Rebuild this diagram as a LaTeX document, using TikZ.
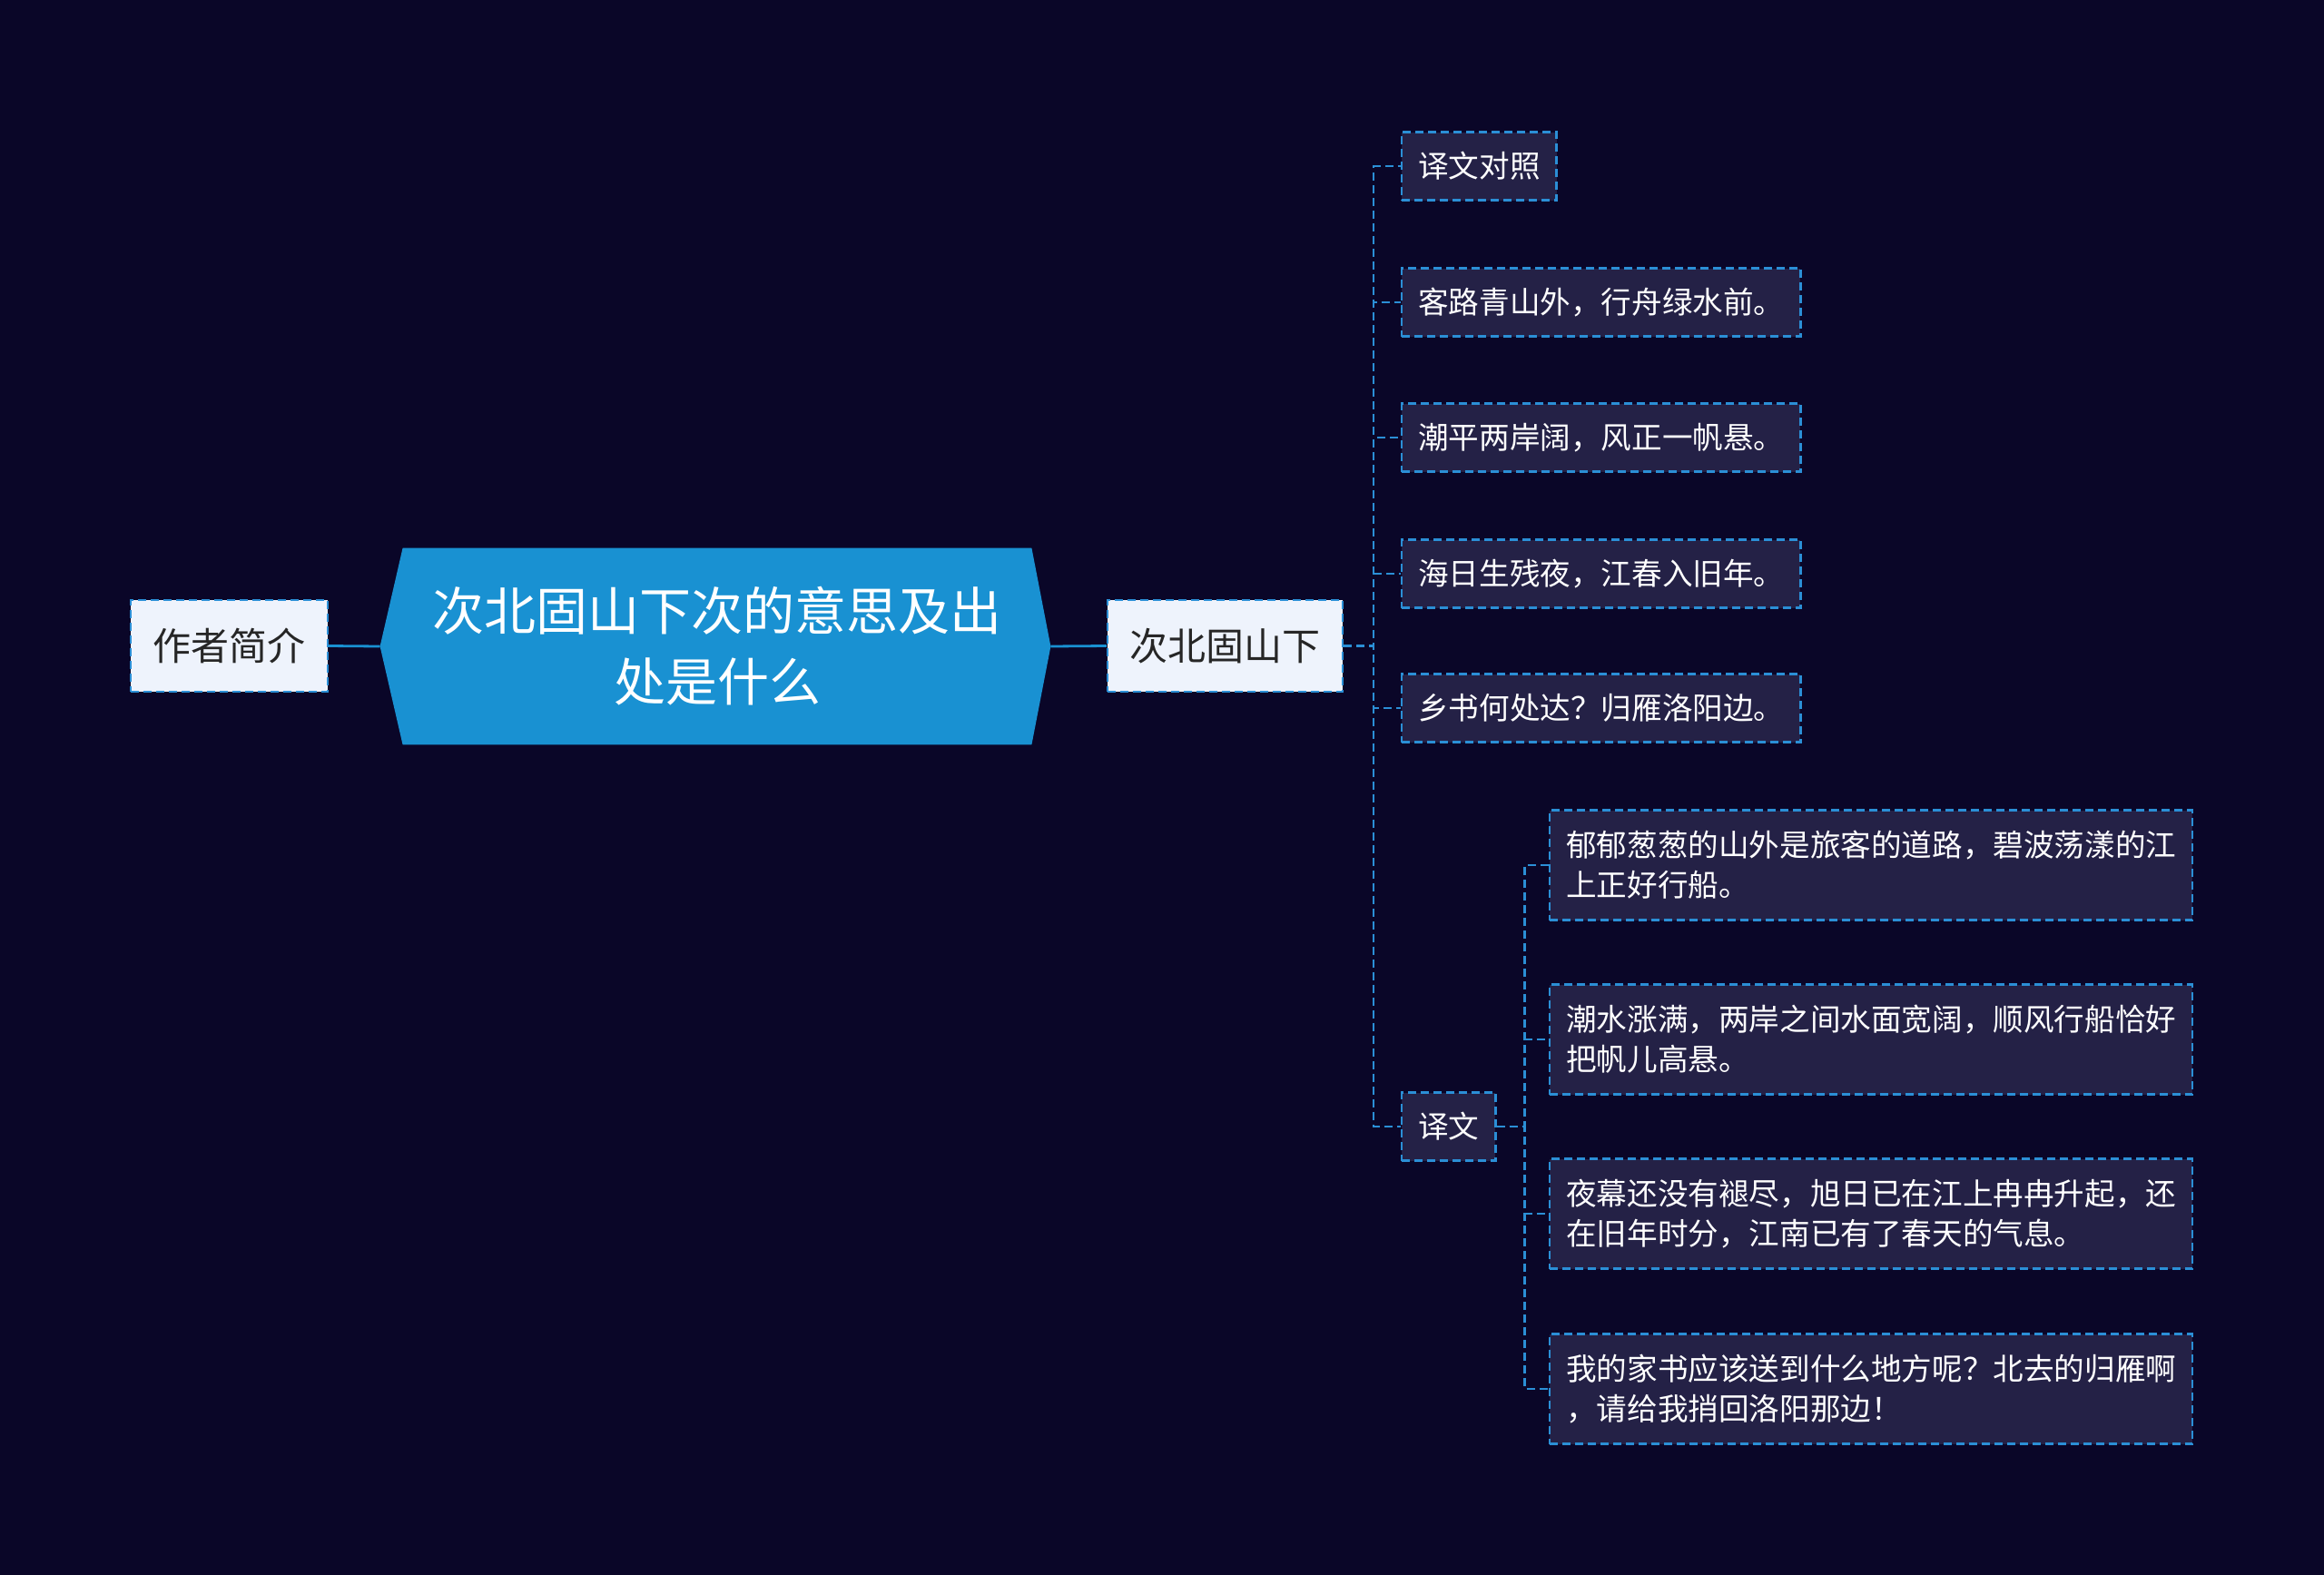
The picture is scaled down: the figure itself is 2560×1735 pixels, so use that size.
\documentclass[tikz,border=0pt]{standalone}
\usepackage{fontspec}
\setmainfont{Noto Sans CJK SC}
\usetikzlibrary{calc}
\definecolor{bgnavy}{RGB}{10,6,40}
\definecolor{hexblue}{RGB}{25,145,210}
\definecolor{lineblue}{RGB}{43,143,214}
\definecolor{pale}{RGB}{238,243,252}
\definecolor{slate}{RGB}{36,33,70}
\newcommand{\kidheight}{37.5pt}
\tikzset{dashline/.style={line width=1.2pt, dash pattern=on 4.5pt off 2.5pt}}
\tikzset{topbox/.style={draw=lineblue, fill=pale, dashline, text=black!85, font=\fontsize{21}{26}\selectfont, minimum height=50.5pt, inner sep=0pt}}
\tikzset{kid/.style={draw=lineblue, fill=slate, dashline, text=white, font=\fontsize{16.8}{20}\selectfont, minimum height=\kidheight, inner xsep=9pt, inner ysep=0pt, anchor=west}}
\tikzset{leaf/.style={kid, font=\fontsize{16.8}{22}\selectfont, align=left, minimum height=60.5pt, text width=336pt}}
\tikzset{link/.style={lineblue, dashline}}
\tikzset{trunk/.style={hexblue, line width=1.4pt}}

\begin{document}
\begin{tikzpicture}[x=0.5pt,y=-0.5pt]

\fill[bgnavy] (0,0) rectangle (2560,1735);
\useasboundingbox (0,0) rectangle (2560,1735);

% central hexagon
\node[minimum width=346pt, minimum height=108pt, inner sep=0pt] (root) at (790,712) {};
\coordinate (rootL) at ($(root.west)+(-25,0)$);
\coordinate (rootR) at ($(root.east)+(21,0)$);
\fill[hexblue] (root.north west) -- (root.north east) -- (rootR) -- (root.south east) -- (root.south west) -- (rootL) -- cycle;
\node[text=white, align=center, font=\fontsize{28.5}{39}\selectfont] (title) at (root) {次北固山下次的意思及出\\处是什么};

\node[topbox, minimum width=108.5pt] (author) at (252.5,711.5) {作者简介};
\node[topbox, minimum width=129.5pt] (poem) at (1349.5,711.5) {次北固山下};
\draw[trunk] (rootL) -- (author.east);
\draw[trunk] (rootR) -- (poem.west);

\node[kid] (k1) at (1543,183) {译文对照};
\node[kid] (k2) at (1543,333) {客路青山外，行舟绿水前。};
\node[kid] (k3) at (1543,482) {潮平两岸阔，风正一帆悬。};
\node[kid] (k4) at (1543,632) {海日生残夜，江春入旧年。};
\node[kid] (k5) at (1543,780) {乡书何处达？归雁洛阳边。};
\node[kid] (k6) at (1543,1241) {译文};
\foreach \k in {k1,k2,k3,k4,k5,k6} \draw[link] (poem.east) -- ++(33,0) |- (\k.west);

\node[leaf] (g1) at (1706,953) {郁郁葱葱的山外是旅客的道路，碧波荡漾的江\\上正好行船。};
\node[leaf] (g2) at (1706,1145) {潮水涨满，两岸之间水面宽阔，顺风行船恰好\\把帆儿高悬。};
\node[leaf] (g3) at (1706,1337) {夜幕还没有褪尽，旭日已在江上冉冉升起，还\\在旧年时分，江南已有了春天的气息。};
\node[leaf] (g4) at (1706,1530) {我的家书应该送到什么地方呢？北去的归雁啊\\，请给我捎回洛阳那边！};
\foreach \g in {g1,g2,g3,g4} \draw[link] (k6.east) -- ++(31,0) |- (\g.west);

\end{tikzpicture}
\end{document}
